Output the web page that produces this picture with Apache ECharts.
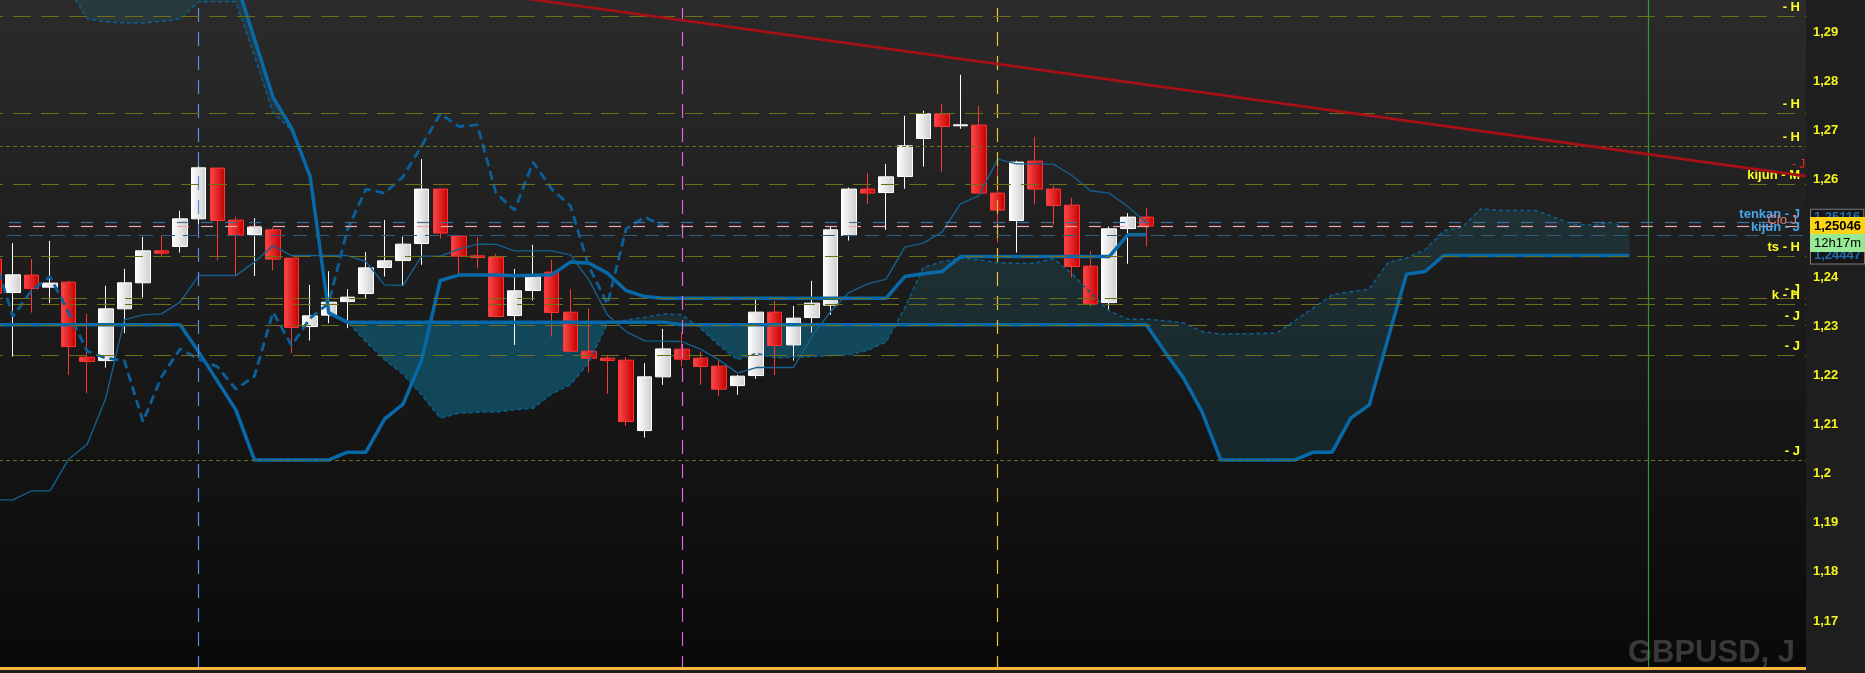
<!DOCTYPE html>
<html>
<head>
<meta charset="utf-8">
<script src="https://cdn.jsdelivr.net/npm/echarts@6/dist/echarts.min.js"></script>
<style>
html,body{margin:0;padding:0;background:#1e1e1e;}
#chart{width:1865px;height:673px;}
</style>
</head>
<body>
<div id="chart"></div>
<script>
// ---------- DATA (GBPUSD, daily) ----------
const categories = ["0","1","2","3","4","5","6","7","8","9","10","11","12","13","14","15","16","17","18","19","20","21","22","23","24","25","26","27","28","29","30","31","32","33","34","35","36","37","38","39","40","41","42","43","44","45","46","47","48","49","50","51","52","53","54","55","56","57","58","59","60","61","62","63","64","65","66","67","68","69","70","71","72","73","74","75","76","77","78","79","80","81","82","83","84","85","86","87","88","89","90","91","92","93","94","95","96","97"];

const opens = [1.24373,1.23692,1.24047,1.23802,1.23904,1.22375,1.22306,1.23360,1.23890,1.24542,
1.24630,1.25194,1.26228,1.25168,1.24874,1.24970,1.24393,1.22999,1.23231,1.23508,
1.23672,1.24202,1.24344,1.24691,1.25800,1.24842,1.24440,1.24414,1.23223,1.23733,
1.24108,1.23292,1.22497,1.22355,1.22314,1.20879,1.21974,1.22538,1.22355,1.22192,
1.21796,1.22000,1.23292,1.22626,1.23182,1.23435,1.24854,1.25800,1.25730,1.26056,
1.26831,1.27334,1.27090,1.27104,1.25718,1.25160,1.26370,1.25800,1.25473,1.24230,
1.23488,1.24996,1.25229];

const closes = [1.23680,1.24053,1.23773,1.23884,1.22591,1.22286,1.23360,1.23890,1.24542,1.24495,
1.25194,1.26234,1.25160,1.24862,1.25025,1.24373,1.22979,1.23217,1.23496,1.23598,
1.24195,1.24338,1.24678,1.25800,1.24903,1.24434,1.24405,1.23203,1.23727,1.24018,
1.23284,1.22497,1.22355,1.22306,1.21063,1.21974,1.22544,1.22334,1.22184,1.21723,
1.21988,1.23292,1.22612,1.23170,1.23476,1.24970,1.25800,1.25718,1.26050,1.26682,
1.27334,1.27076,1.27110,1.25718,1.25372,1.26350,1.25800,1.25465,1.24222,1.23456,
1.24990,1.25229,1.25046];

const lows = [1.23543,1.22387,1.23284,1.23476,1.22014,1.21641,1.22163,1.22864,1.23590,1.24440,
1.24507,1.25051,1.24344,1.24053,1.24032,1.24140,1.22457,1.22714,1.23068,1.22966,
1.23570,1.24018,1.23835,1.24257,1.24793,1.24073,1.24181,1.23186,1.22626,1.23529,
1.22795,1.22493,1.22061,1.21627,1.20975,1.20736,1.21811,1.22184,1.21811,1.21586,
1.21607,1.21933,1.22014,1.22306,1.22877,1.23237,1.24752,1.25500,1.24970,1.25806,
1.26260,1.26158,1.27029,1.25718,1.24711,1.24507,1.25486,1.25072,1.23998,1.23407,
1.23325,1.24277,1.24630];

const highs = [1.24562,1.24699,1.24373,1.24746,1.23930,1.23258,1.23829,1.24175,1.24827,1.24862,
1.25357,1.26458,1.26234,1.25235,1.25208,1.25017,1.24399,1.23849,1.24128,1.23761,
1.24515,1.25168,1.24833,1.26411,1.25806,1.24868,1.24821,1.24481,1.24175,1.24664,
1.24358,1.23761,1.23374,1.22408,1.22375,1.22253,1.22952,1.22877,1.22489,1.22320,
1.22014,1.23543,1.23523,1.23421,1.23930,1.25037,1.25832,1.26126,1.26315,1.27294,
1.27396,1.27538,1.28129,1.27497,1.26513,1.26376,1.26866,1.25867,1.25622,1.24542,
1.25037,1.25310,1.25412];

const tenkan = [1.19467,1.19467,1.19650,1.19650,1.20296,1.20602,1.21539,1.23135,1.23237,1.23258,
1.23496,1.24038,1.24038,1.24038,1.24312,1.24650,1.24446,1.24446,1.24446,1.24446,
1.24324,1.23849,1.23835,1.24434,1.24434,1.24577,1.24678,1.24674,1.24542,1.24542,
1.24542,1.24460,1.23951,1.23237,1.22897,1.22707,1.22701,1.22693,1.22538,1.22320,
1.22049,1.22163,1.22163,1.22163,1.22795,1.23305,1.23692,1.23869,1.23965,1.24617,
1.24699,1.24923,1.25500,1.25669,1.26411,1.26315,1.26315,1.26309,1.26077,1.25765,
1.25718,1.25445,1.25116];

const kijun = [1.23034,1.23034,1.23034,1.23034,1.23034,1.23034,1.23034,1.23034,1.23034,1.23034,
1.23034,1.22483,1.21892,1.21301,1.20282,1.20282,1.20282,1.20282,1.20282,1.20439,
1.20439,1.21111,1.21417,1.22320,1.23937,1.24047,1.24047,1.24047,1.24032,1.24043,
1.24053,1.24312,1.24291,1.24087,1.23733,1.23610,1.23578,1.23578,1.23578,1.23578,
1.23578,1.23578,1.23578,1.23578,1.23578,1.23578,1.23578,1.23578,1.23578,1.24018,
1.24073,1.24120,1.24426,1.24426,1.24426,1.24426,1.24426,1.24426,1.24426,1.24426,
1.24426,1.24868,1.24868];

const senkouA = [1.30575,1.30575,1.30473,1.30270,1.29903,1.29271,1.29210,1.29183,1.29183,1.29220,
1.29265,1.29617,1.29617,1.29617,1.28517,1.27355,1.27008,1.26030,1.23278,1.23105,
1.22687,1.22328,1.22027,1.21607,1.21132,1.21234,1.21254,1.21260,1.21301,1.21336,
1.21627,1.21811,1.22267,1.23066,1.23135,1.23184,1.23258,1.23237,1.22966,1.22616,
1.22320,1.22453,1.22361,1.22371,1.22387,1.22406,1.22422,1.22512,1.22687,1.23380,
1.24206,1.24318,1.24393,1.24358,1.24297,1.24291,1.24291,1.24379,1.24073,1.23686,
1.23319,1.23150,1.23150,1.23115,1.23074,1.22897,1.22844,1.22850,1.22856,1.22864,
1.23121,1.23380,1.23645,1.23706,1.23761,1.24303,1.24393,1.24562,1.24950,1.25025,
1.25398,1.25363,1.25363,1.25363,1.25215,1.25086,1.25066,1.25123,1.24990];

const senkouB = [1.31000,1.31000,1.31000,1.31000,1.31000,1.31000,1.31000,1.31000,1.31000,1.31000,
1.31000,1.31000,1.31000,1.30045,1.28863,1.27671,1.27043,1.26056,1.23278,1.23089,
1.23089,1.23089,1.23089,1.23089,1.23089,1.23089,1.23089,1.23089,1.23089,1.23089,
1.23089,1.23089,1.23089,1.23089,1.23089,1.23089,1.23089,1.23034,1.23034,1.23034,
1.23034,1.23034,1.23034,1.23034,1.23034,1.23034,1.23034,1.23034,1.23034,1.23034,
1.23034,1.23034,1.23034,1.23034,1.23034,1.23034,1.23034,1.23034,1.23034,1.23034,
1.23034,1.23034,1.23034,1.22483,1.21953,1.21260,1.20282,1.20282,1.20282,1.20282,
1.20282,1.20439,1.20439,1.21132,1.21403,1.22748,1.24067,1.24120,1.24447,1.24447,
1.24447,1.24447,1.24447,1.24447,1.24447,1.24447,1.24447,1.24447,1.24447];

const chikou = [1.24405,1.23203,1.23727,1.24018,1.23284,1.22497,1.22355,1.22306,1.21063,1.21974,
1.22544,1.22334,1.22184,1.21723,1.21988,1.23292,1.22612,1.23170,1.23476,1.24970,
1.25800,1.25718,1.26050,1.26682,1.27334,1.27076,1.27110,1.25718,1.25372,1.26350,
1.25800,1.25465,1.24222,1.23456,1.24990,1.25229,1.25046];

// trend line (bar index, price)
const trendX = [28, 97.5];
const trendY = [1.29714, 1.26065];

// horizontal levels drawn by the user
const levelValues = [1.29326, 1.27349, 1.26682, 1.25901, 1.24434, 1.23578, 1.23462, 1.23034, 1.22416, 1.20276];
const levelLabels = ['- H', '- H', '- H', 'kijun - M', 'ts - H', '- J', 'k - H', '- J', '- J', '- J'];

// current-value lines
const tenkanLast = 1.25116;
const closeLast = 1.25046;
const kijunLast = 1.24868;
const spanBLast = 1.24447;
const countdown = '12h17m';

// vertical markers (bar index)
const vLineIdx = ['11', '37', '54', '89'];

const bottomLine = 1.16041;
const title = 'GBPUSD, J';

// ---------- STYLE ----------
const OLIVE = '#6f6f18';
const KUMO_DARK = 'rgba(30,120,140,0.2)';
const KUMO_BRIGHT = 'rgba(14,104,131,0.6)';
const LINE_BLUE = '#0869a8';
const FONT = 'Arial, "Liberation Sans", sans-serif';
const shortDashLevels = [2, 9];
const vLineColors = ['#5b8de8', '#e066e0', '#e8c23c', '#2f9a2f'];
const INVISIBLE = 'rgba(0,0,0,0)';

const fmt = v => String(Math.round(v * 100000) / 100000).replace('.', ',');

// Kumo: filled between span A and span B, split where the spans meet.
function renderKumo(params, api) {
  const n = Math.min(senkouA.length, senkouB.length);
  const A = [], B = [];
  for (let i = 0; i < n; i++) {
    A.push(api.coord([i, senkouA[i]]));
    B.push(api.coord([i, senkouB[i]]));
  }
  const polys = [];
  let runNo = 0;
  let top = [A[0]], bot = [B[0]];
  let sgn = Math.sign(senkouA[0] - senkouB[0]);
  const flush = () => {
    if (top.length > 1) {
      // the first run (cloud far above price) is drawn with the dark tint
      const fill = (sgn > 0 || runNo === 0) ? KUMO_DARK : KUMO_BRIGHT;
      polys.push({ type: 'polygon', shape: { points: top.concat(bot.slice().reverse()) }, style: { fill } });
      runNo++;
    }
  };
  for (let i = 1; i < n; i++) {
    const d0 = senkouA[i - 1] - senkouB[i - 1];
    const d1 = senkouA[i] - senkouB[i];
    const s = Math.sign(d1);
    if (sgn !== 0 && s !== 0 && s !== sgn) {
      const t = d0 / (d0 - d1);
      const P = [A[i - 1][0] + (A[i][0] - A[i - 1][0]) * t, A[i - 1][1] + (A[i][1] - A[i - 1][1]) * t];
      top.push(P); bot.push(P);
      flush();
      top = [P]; bot = [P];
      sgn = s;
      top.push(A[i]); bot.push(B[i]);
    } else if (s === 0 && sgn !== 0) {
      top.push(A[i]); bot.push(B[i]);
      flush();
      top = [A[i]]; bot = [B[i]];
      sgn = 0;
    } else {
      if (sgn === 0) sgn = s;
      top.push(A[i]); bot.push(B[i]);
    }
  }
  flush();
  return { type: 'group', children: polys };
}

const levelLines = levelValues.map((v, i) => ({
  yAxis: v,
  lineStyle: { color: OLIVE, width: 1, type: shortDashLevels.includes(i) ? [4, 3] : [18, 10] },
  label: { show: true, position: 'insideEndTop', formatter: levelLabels[i], color: '#ffff1a',
           fontSize: 13, fontWeight: 'bold', fontFamily: FONT, distance: [6, 2] }
}));

const boxLabel = (text, color, bg, border, offsetY, bold) => ({
  show: true, position: 'end', formatter: text, color: color, backgroundColor: bg,
  borderColor: border || bg, borderWidth: 1, padding: [1, 3, 1, 3], lineHeight: 14,
  fontSize: 13, fontWeight: bold ? 'bold' : 'normal', fontFamily: FONT, distance: [5, 0], offset: [0, offsetY]
});

const markLines = [
  ...vLineIdx.map((x, i) => ({
    xAxis: x,
    lineStyle: { color: vLineColors[i], width: 1.2, type: i === 3 ? 'solid' : [14, 10] },
    label: { show: false }
  })),
  ...levelLines,
  { yAxis: tenkanLast, lineStyle: { color: '#3c6f99', width: 1.2, type: [12, 12] },
    label: { show: true, position: 'insideEndTop', formatter: 'tenkan - J', color: '#45a6ec',
             fontSize: 13, fontWeight: 'bold', fontFamily: FONT, distance: [6, 2] } },
  { yAxis: closeLast, lineStyle: { color: '#f0a6a6', width: 1.2, type: [12, 12] },
    label: { show: true, position: 'insideEndTop', formatter: 'Clo J', color: '#e27a7a',
             fontSize: 13, fontWeight: 'normal', fontFamily: FONT, distance: [9, -1] } },
  { yAxis: kijunLast, lineStyle: { color: '#2e5d7d', width: 1.2, type: [14, 8] },
    label: { show: true, position: 'insideEndTop', formatter: 'kijun - J', color: '#45a6ec',
             fontSize: 13, fontWeight: 'bold', fontFamily: FONT, distance: [6, 1] } },
  { yAxis: bottomLine, lineStyle: { color: '#f7b53c', width: 3, type: 'solid' }, label: { show: false } },
  // value boxes on the price scale
  { yAxis: tenkanLast, lineStyle: { color: INVISIBLE, width: 1 }, label: boxLabel(fmt(tenkanLast), '#1f6cb0', '#161616', '#7c7c7c', -5, true) },
  { yAxis: spanBLast, lineStyle: { color: INVISIBLE, width: 1 }, label: boxLabel(fmt(spanBLast), '#1f6cb0', '#161616', '#7c7c7c', 0, true) },
  { yAxis: closeLast, lineStyle: { color: INVISIBLE, width: 1 }, label: boxLabel(fmt(closeLast), '#000000', '#fcd416', null, 0, true) },
  { yAxis: closeLast, lineStyle: { color: INVISIBLE, width: 1 }, label: boxLabel(countdown, '#000000', '#97e997', null, 17, false) }
];

const chart = echarts.init(document.getElementById('chart'), null, { renderer: 'canvas' });

const option = {
  animation: false,
  backgroundColor: '#1e1e1e',
  grid: {
    left: -15, right: 59, top: -17, bottom: 3,
    show: true, borderWidth: 0, containLabel: false, outerBoundsMode: 'none',
    backgroundColor: {
      type: 'linear', x: 0, y: 0, x2: 0, y2: 1,
      colorStops: [{ offset: 0, color: '#2c2c2c' }, { offset: 1, color: '#090909' }]
    }
  },
  xAxis: [
    { type: 'category', data: categories, boundaryGap: true,
      axisLine: { show: false }, axisTick: { show: false }, axisLabel: { show: false }, splitLine: { show: false } },
    { type: 'value', min: -0.5, max: 97.5, show: false, position: 'top' }
  ],
  yAxis: {
    type: 'value', position: 'right', min: 1.16, max: 1.30, interval: 0.01,
    axisLine: { show: true, lineStyle: { color: '#767676' } },
    axisTick: { show: true, length: 4, lineStyle: { color: '#767676' } },
    axisLabel: {
      color: '#f4f41c', fontWeight: 'bold', fontSize: 13, fontFamily: FONT, margin: 7,
      showMinLabel: false, showMaxLabel: false,
      formatter: v => String(Math.round(v * 100) / 100).replace('.', ',')
    },
    splitLine: { show: false }
  },
  graphic: [{
    type: 'text', right: 70, bottom: 4, z: 1, silent: true,
    style: { text: title, font: 'bold 31px ' + FONT, fill: '#393939' }
  }],
  series: [
    { type: 'custom', name: 'kumo', z: 1, silent: true, clip: true,
      renderItem: renderKumo, data: [[0, senkouA[0]]], encode: { x: 0, y: 1 } },
    { type: 'candlestick', name: 'GBPUSD', z: 3, barWidth: 15, silent: true,
      data: opens.map((o, i) => [o, closes[i], lows[i], highs[i]]),
      itemStyle: {
        color: { type: 'linear', x: 0, y: 0, x2: 1, y2: 0,
                 colorStops: [{ offset: 0, color: '#ffffff' }, { offset: 1, color: '#cdcdcd' }] },
        color0: { type: 'linear', x: 0, y: 0, x2: 1, y2: 0,
                  colorStops: [{ offset: 0, color: '#ff4a4a' }, { offset: 1, color: '#c20000' }] },
        borderColor: '#ffffff', borderColor0: '#ff3434', borderWidth: 1
      } },
    { type: 'line', name: 'senkouA', data: senkouA, z: 4, symbol: 'none', silent: true,
      lineStyle: { color: '#0c5f90', width: 1.5, type: [4, 3] } },
    { type: 'line', name: 'senkouB', data: senkouB, z: 4, symbol: 'none', silent: true,
      lineStyle: { color: LINE_BLUE, width: 3.5 } },
    { type: 'line', name: 'tenkan', data: tenkan, z: 4, symbol: 'none', silent: true,
      lineStyle: { color: '#14608f', width: 1.4 } },
    { type: 'line', name: 'kijun', data: kijun, z: 4, symbol: 'none', silent: true,
      lineStyle: { color: LINE_BLUE, width: 3.5 } },
    { type: 'line', name: 'chikou', data: chikou, z: 4, symbol: 'none', silent: true,
      lineStyle: { color: '#0a609a', width: 2.8, type: [9, 5] } },
    { type: 'line', name: 'trend', xAxisIndex: 1, z: 5, symbol: 'none', silent: true,
      data: trendX.map((x, i) => [x, trendY[i]]),
      lineStyle: { color: '#a80f16', width: 2.6 },
      endLabel: { show: true, formatter: '- J', color: '#ff2424', fontSize: 12, fontFamily: FONT, offset: [-22, -11] } },
    { type: 'line', name: 'levels', data: [], z: 6, silent: true, clip: false,
      markLine: { silent: true, precision: 6, symbol: ['none', 'none'], animation: false,
                  label: { show: false }, data: markLines } }
  ]
};
chart.setOption(option);
</script>
</body>
</html>
